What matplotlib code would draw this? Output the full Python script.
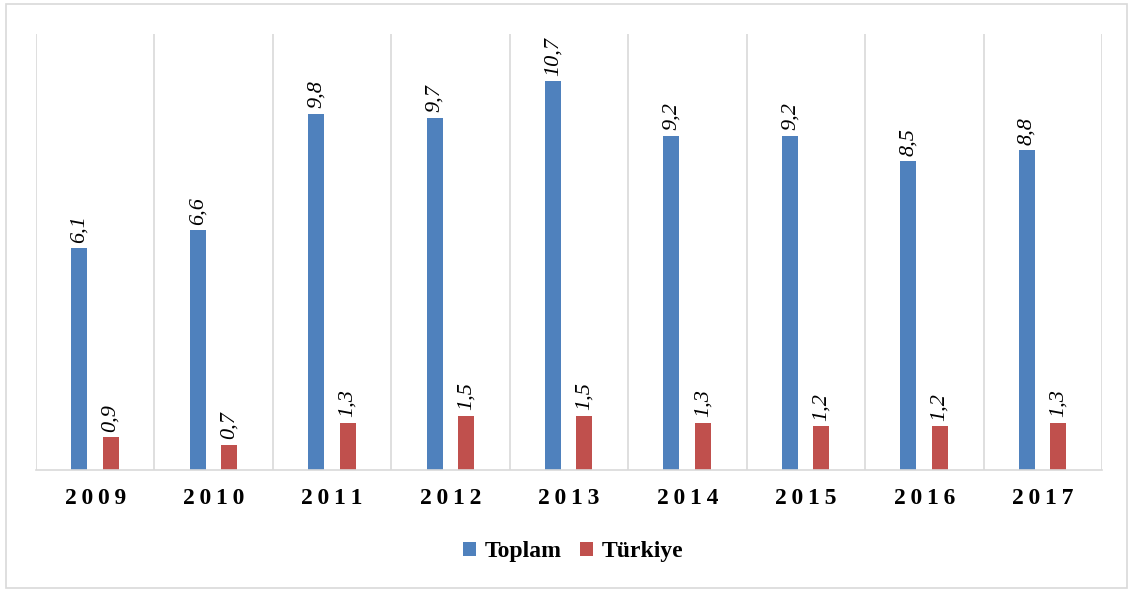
import matplotlib
matplotlib.use('Agg')
import matplotlib.pyplot as plt
from matplotlib.patches import Rectangle
import numpy as np

years = ['2009', '2010', '2011', '2012', '2013', '2014', '2015', '2016', '2017']
toplam = [6.1, 6.6, 9.8, 9.7, 10.7, 9.2, 9.2, 8.5, 8.8]
turkiye = [0.9, 0.7, 1.3, 1.5, 1.5, 1.3, 1.2, 1.2, 1.3]

plt.rcParams['font.family'] = ['Liberation Serif', 'DejaVu Serif']

fig = plt.figure(figsize=(11.3, 5.9), dpi=100)
ax = fig.add_axes([36/1130, 1-470/590, (1102-36)/1130, (470-34)/590])

# dis cerceve
fig.patches.append(Rectangle((6/1130, 2/590), 1121/1130, 584/590, transform=fig.transFigure,
                             fill=False, edgecolor='#d9d9d9', linewidth=1.2))

x = np.arange(len(years))
w = 0.135
b1 = ax.bar(x - 0.135, toplam, w, color='#4f81bd', label='Toplam')
b2 = ax.bar(x + 0.13, turkiye, w, color='#c0504d', label='Türkiye')

for bars, vals in ((b1, toplam), (b2, turkiye)):
    for r, v in zip(bars, vals):
        ax.text(r.get_x() + r.get_width()/2, v + 0.15, ('%.1f' % v).replace('.', ','),
                rotation=90, ha='center', va='bottom', style='italic', fontsize=16)

ax.set_xlim(-0.5, len(years) - 0.5)
ax.set_ylim(0, 12)
ax.set_yticks([])
ax.set_xticks(x)
# harf araligi icin ince bosluk
ax.set_xticklabels(['\u2009'.join(y) for y in years], fontsize=17, fontweight='bold')
ax.tick_params(axis='x', length=0, pad=13)
for b in np.arange(-0.5, len(years), 1):
    ax.axvline(b, color='#d9d9d9', lw=1.2, zorder=0)
for s in ['top', 'left', 'right']:
    ax.spines[s].set_visible(False)
ax.spines['bottom'].set_color('#d9d9d9')
ax.spines['bottom'].set_linewidth(1.2)

fig.legend(loc='center', bbox_to_anchor=(573/1130, 1-552/590), ncol=2, frameon=False,
           prop={'weight': 'bold', 'size': 17}, handlelength=0.55, handleheight=0.55,
           handletextpad=0.35, columnspacing=0.8)

fig.savefig('out.png', dpi=100)
